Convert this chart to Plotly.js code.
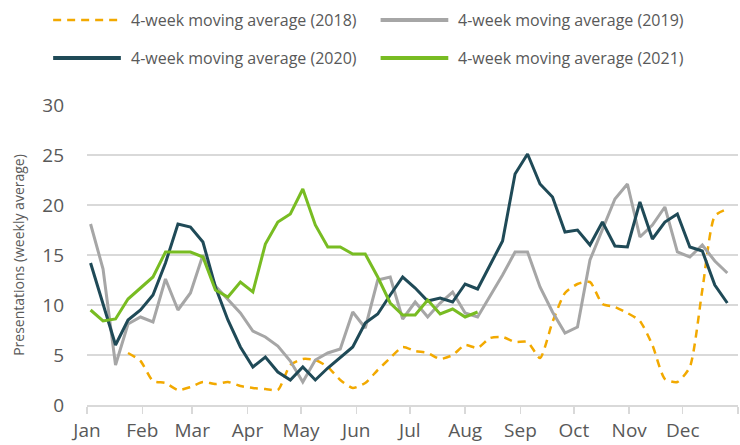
<!DOCTYPE html>
<html>
<head>
<meta charset="utf-8">
<script src="https://cdn.plot.ly/plotly-3.0.1.min.js"></script>
<style>
  html, body { margin: 0; padding: 0; background: #ffffff; }
  #chart { width: 740px; height: 445px; }
</style>
</head>
<body>
<div id="chart"></div>
<script>
// ---- data (weekly 4-week moving averages) ----
const weekCount = 52;
const firstWeek = '2019-01-03';

const avg2018 = [null, null, null, 5.2, 4.4, 2.4, 2.2, 1.5, 1.8, 2.3,
                 2.1, 2.3, 1.9, 1.7, 1.6, 1.5, 4.0, 4.6, 4.5, 3.8,
                 2.5, 1.7, 2.2, 3.5, 4.7, 5.8, 5.4, 5.2, 4.6, 5.0,
                 6.0, 5.7, 6.7, 6.8, 6.3, 6.3, 4.7, 8.3, 11.2, 12.1,
                 12.3, 10.1, 9.8, 9.2, 8.4, 6.0, 2.6, 2.3, 3.8, 11.5,
                 18.9, 19.6];

const avg2019 = [18.1, 13.6, 4.0, 8.1, 8.8, 8.3, 12.6, 9.5, 11.2, 15.0,
                 11.9, 10.6, 9.2, 7.4, 6.8, 5.9, 4.4, 2.3, 4.5, 5.2,
                 5.6, 9.3, 7.7, 12.5, 12.8, 8.6, 10.3, 8.8, 10.2, 11.3,
                 9.2, 8.8, 10.9, 13.0, 15.3, 15.3, 11.8, 9.3, 7.2, 7.8,
                 14.5, 17.5, 20.6, 22.1, 16.8, 18.0, 19.8, 15.3, 14.8, 16.0,
                 14.4, 13.2];

const avg2020 = [14.2, 10.0, 6.0, 8.5, 9.5, 11.0, 14.2, 18.1, 17.8, 16.3,
                 11.8, 8.5, 5.8, 3.8, 4.8, 3.3, 2.5, 3.8, 2.5, 3.7,
                 4.8, 5.8, 8.2, 9.1, 11.0, 12.8, 11.7, 10.4, 10.7, 10.3,
                 12.1, 11.6, 14.0, 16.4, 23.1, 25.1, 22.1, 20.8, 17.3, 17.5,
                 16.0, 18.3, 15.9, 15.8, 20.3, 16.6, 18.3, 19.1, 15.8, 15.4,
                 12.0, 10.2];

const avg2021 = [9.5, 8.4, 8.6, 10.6, 11.7, 12.8, 15.3, 15.3, 15.3, 14.8,
                 11.5, 10.8, 12.3, 11.3, 16.1, 18.3, 19.1, 21.6, 18.0, 15.8,
                 15.8, 15.1, 15.1, 12.8, 10.2, 9.0, 9.0, 10.5, 9.1, 9.6,
                 8.8, 9.3];

const seriesNames = ['4-week moving average (2018)', '4-week moving average (2019)',
                     '4-week moving average (2020)', '4-week moving average (2021)'];

const monthStarts = ['2019-01-01','2019-02-01','2019-03-01','2019-04-01','2019-05-01','2019-06-01',
                     '2019-07-01','2019-08-01','2019-09-01','2019-10-01','2019-11-01','2019-12-01','2020-01-01'];
const monthLabels = ['Jan','Feb','Mar','Apr','May','Jun','Jul','Aug','Sep','Oct','Nov','Dec',''];

const yTickVals = [0, 5, 10, 15, 20, 25, 30];

// ---- styles ----
const FONT = 'Open Sans, Lato, sans-serif';
const TXT = '#595959';
const styles = [
  {color: '#F2A900', width: 2.5, dash: '8px,6px', shape: 'spline'},
  {color: '#A6A6A6', width: 3, dash: 'solid', shape: 'linear'},
  {color: '#1F4A57', width: 3, dash: 'solid', shape: 'linear'},
  {color: '#78BC22', width: 3, dash: 'solid', shape: 'linear'}
];

// weekly x positions (dates)
const t0 = Date.parse(firstWeek + 'T00:00:00Z');
const weeks = [];
for (let i = 0; i < weekCount; i++) {
  weeks.push(new Date(t0 + i * 7 * 86400000).toISOString().slice(0, 10));
}

const allSeries = [avg2018, avg2019, avg2020, avg2021];
const traces = allSeries.map((vals, k) => ({
  type: 'scatter',
  mode: 'lines',
  x: weeks.slice(0, vals.length),
  y: vals,
  name: seriesNames[k],
  showlegend: false,
  connectgaps: false,
  line: {color: styles[k].color, width: styles[k].width, dash: styles[k].dash,
         shape: styles[k].shape, smoothing: 0.6},
  hoverinfo: 'skip'
}));

// custom legend (2 x 2 grid)
const legendPos = [
  {x0: -0.052, x1: 0.052, tx: 0.0645, y: 1.283},
  {x0: 0.451, x1: 0.555, tx: 0.567, y: 1.283},
  {x0: -0.052, x1: 0.052, tx: 0.0645, y: 1.157},
  {x0: 0.451, x1: 0.555, tx: 0.567, y: 1.157}
];
const shapes = legendPos.map((p, k) => ({
  type: 'line', xref: 'paper', yref: 'paper',
  x0: p.x0, x1: p.x1, y0: p.y, y1: p.y,
  line: {color: styles[k].color, width: k === 0 ? 2.5 : 4, dash: k === 0 ? '8px,6px' : 'solid'}
}));
const annotations = legendPos.map((p, k) => ({
  xref: 'paper', yref: 'paper', x: p.tx, y: p.y,
  xanchor: 'left', yanchor: 'middle', showarrow: false,
  text: seriesNames[k],
  font: {family: FONT, size: 16, color: TXT}
}));

const layout = {
  width: 740, height: 445,
  margin: {l: 87, r: 2, t: 105, b: 40, pad: 0},
  paper_bgcolor: '#ffffff', plot_bgcolor: '#ffffff',
  showlegend: false,
  xaxis: {
    type: 'date',
    range: ['2019-01-01', '2020-01-01'],
    tickvals: monthStarts, ticktext: monthLabels,
    ticks: 'outside', ticklen: 7, tickwidth: 1.5, tickcolor: '#D9D9D9',
    showline: true, linecolor: '#D9D9D9', linewidth: 2,
    showgrid: false, zeroline: false,
    tickfont: {family: FONT, size: 19, color: TXT},
    ticklabelstandoff: 0,
    fixedrange: true
  },
  yaxis: {
    range: [0, 30],
    tickvals: yTickVals,
    showgrid: true, gridcolor: '#D9D9D9', gridwidth: 2,
    zeroline: false, showline: false,
    ticks: '', ticklabelstandoff: 22,
    tickfont: {family: FONT, size: 19, color: TXT},
    title: {text: 'Presentations (weekly average)', standoff: 14,
            font: {family: FONT, size: 14, color: TXT}},
    fixedrange: true
  },
  shapes: shapes,
  annotations: annotations
};

Plotly.newPlot('chart', traces, layout, {displayModeBar: false, staticPlot: true});
</script>
</body>
</html>
